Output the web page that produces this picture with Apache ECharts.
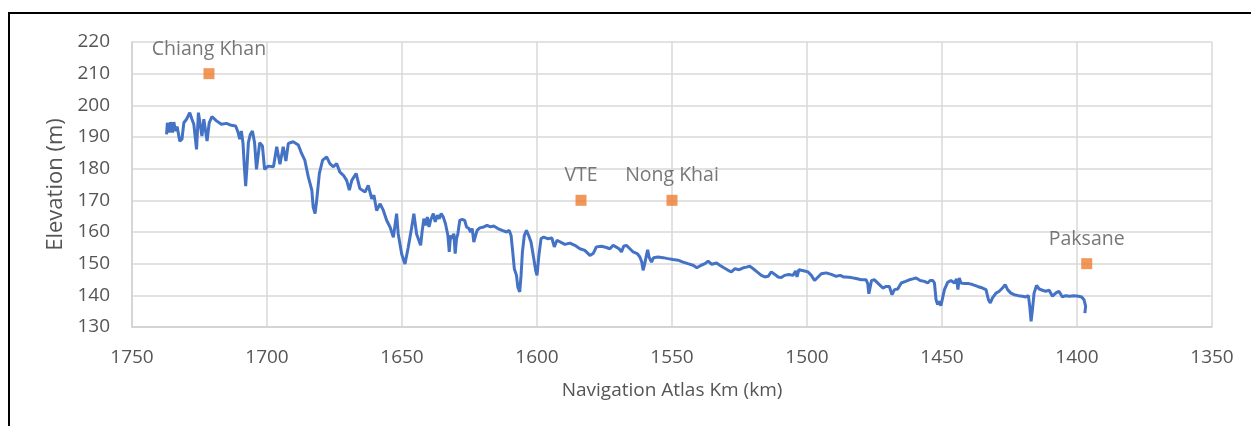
<!DOCTYPE html>
<html>
<head>
<meta charset="utf-8">
<script src="https://cdn.jsdelivr.net/npm/echarts@6/dist/echarts.min.js"></script>
<style>html,body{margin:0;padding:0;background:#fff;}#c{width:1251px;height:426px;}</style>
</head>
<body>
<div id="c"></div>
<script>
// Elevation profile: [Navigation Atlas Km, Elevation m]
const profileKm = [1737.2,1736.9,1736.2,1735.7,1735.0,1734.5,1733.9,1733.3,1732.3,1731.5,1730.8,1729.8,1728.6,1727.8,1727.1,1726.1,1725.4,1724.9,1724.1,1723.4,1722.2,1721.4,1720.4,1718.7,1716.9,1715.0,1713.2,1711.6,1710.7,1710.1,1709.5,1708.9,1708.4,1707.9,1707.4,1706.9,1706.2,1705.4,1704.6,1703.9,1703.3,1702.7,1701.7,1700.9,1699.6,
1697.6,1696.4,1695.2,1694.0,1693.0,1692.1,1690.3,1688.4,1687.2,1686.0,1684.7,1683.4,1682.9,1682.2,1681.6,1680.6,1679.4,1677.9,1676.7,1675.4,1674.2,1673.0,1671.7,1670.5,1669.5,1668.6,1667.0,1665.6,1663.7,1662.5,1661.2,1660.4,1659.4,1658.1,1656.9,1655.7,1654.4,1653.2,1652.0,1651.4,1650.1,1648.9,1647.7,1646.4,1645.6,1644.6,
1643.1,1642.5,1641.9,1641.3,1640.6,1640.0,1639.4,1638.4,1637.7,1636.9,1636.2,1635.5,1634.7,1633.9,1633.0,1632.5,1632.0,1631.3,1630.8,1630.3,1629.8,1629.3,1628.6,1627.7,1626.8,1626.1,1625.2,1624.6,1624.0,1623.4,1622.8,1622.2,1621.2,1619.7,1618.5,1617.2,1616.0,1614.5,1612.9,1611.3,1610.3,1609.6,1609.1,1608.4,1607.6,1607.1,1606.4,1605.9,1605.4,1604.7,1603.9,1603.1,1602.2,1601.2,1600.5,1600.0,1599.3,1598.5,1597.5,1596.1,1594.5,1593.6,1592.6,
1589.7,1587.8,1586.0,1584.1,1582.3,1580.4,1579.2,1578.0,1576.1,1574.3,1573.0,1571.8,1570.8,1570.3,1569.6,1568.7,1567.9,1566.9,1565.6,1564.4,1562.9,1561.9,1561.2,1560.7,1560.1,1559.5,1559.0,1558.5,1557.6,1556.8,1555.2,1553.3,1551.5,1549.6,1547.8,1545.9,1544.1,1542.2,1540.8,1539.2,
1537.8,1536.6,1535.3,1533.5,1532.3,1530.8,1529.2,1528.0,1526.7,1525.1,1523.6,1522.4,1521.2,1519.9,1518.5,1516.9,1515.6,1514.4,1513.2,1511.9,1510.7,1509.5,1508.3,1506.7,1505.2,1504.2,1503.7,1503.0,1502.1,1500.9,1499.6,1498.4,1497.2,1495.9,1494.7,1492.9,1491.0,1489.2,1487.7,1487.0,1486.5,1485.5,1483.6,1481.8,1479.9,1478.1,1477.5,1477.1,1476.6,1476.1,1475.0,
1473.2,1471.9,1470.7,1469.5,1468.5,1467.6,1466.4,1465.1,1463.5,1462.1,1460.8,1459.6,1458.1,1456.5,1455.3,1454.4,1453.4,1452.8,1452.2,1451.6,1451.0,1450.4,1449.8,1449.1,1447.9,1446.7,1445.4,1444.6,1444.1,1443.6,1443.0,1441.7,1440.1,1438.7,1436.8,1435.0,1433.7,1432.8,1432.1,1431.3,1430.0,1428.8,1427.6,1426.6,1425.7,1424.5,1423.3,1421.7,1420.2,1419.0,1418.0,1417.5,1417.0,1416.5,1415.9,1415.0,1414.0,1412.8,1411.6,1410.3,1409.1,1407.9,1406.7,1405.4,1404.2,1402.7,1401.2,1399.4,1398.3,1397.4,1396.8,1397.1];
const profileElev = [190.8,194.5,191.4,194.7,191.4,194.7,191.9,193.3,188.7,189.3,194.5,195.6,197.7,195.6,194.0,186.1,197.7,197.9,190.3,195.6,188.7,194.5,196.4,195.1,194.0,194.3,193.7,193.5,191.4,189.3,191.9,188.2,180.8,174.5,180.8,188.2,190.8,191.9,188.2,179.8,184.0,188.2,187.2,179.8,180.8,
180.6,186.9,181.4,186.9,182.4,188.0,188.5,187.5,184.8,182.7,177.4,173.2,167.9,165.8,170.0,178.5,182.7,183.7,181.6,180.6,181.6,178.9,177.9,176.3,173.2,176.3,178.5,173.7,172.6,174.7,170.5,171.6,166.8,168.9,166.8,163.7,161.5,158.3,165.8,159.4,153.0,149.9,155.1,161.5,165.8,159.4,
155.8,160.5,164.2,162.1,164.7,161.6,163.7,165.8,163.2,165.3,164.2,165.8,164.7,162.6,158.9,153.7,158.9,157.9,159.5,153.2,157.9,159.5,163.7,164.0,163.7,161.6,161.1,160.0,161.1,156.8,156.3,160.5,161.3,161.6,162.1,161.6,161.9,161.1,160.5,160.0,160.5,158.9,154.7,148.4,146.3,142.6,141.1,146.3,153.7,158.9,160.5,158.9,156.8,151.6,147.9,146.3,152.6,157.9,158.4,157.9,158.1,155.3,157.4,
156.1,156.5,155.8,154.7,154.2,152.6,153.2,155.3,155.5,155.1,154.7,155.8,155.3,155.8,154.7,153.7,155.5,155.8,154.7,153.7,153.2,152.1,150.5,147.9,150.0,152.6,154.4,152.1,150.5,151.9,152.1,151.9,151.6,151.3,151.1,150.5,150.0,149.5,148.7,149.5,
150.0,150.8,149.8,150.2,149.5,148.7,147.9,147.4,148.4,148.1,148.7,148.9,149.2,148.4,147.4,146.3,145.8,146.0,147.4,146.6,145.8,145.6,146.3,146.6,146.3,147.7,145.8,148.1,147.9,147.7,147.4,146.3,144.7,145.8,146.8,147.1,146.6,146.0,146.3,146.6,145.8,145.8,145.6,145.3,144.9,144.9,143.7,140.5,142.6,144.7,144.9,
143.4,142.3,142.8,142.8,140.2,141.8,142.0,143.9,144.4,144.9,145.2,145.5,144.7,144.4,143.9,144.7,144.7,143.9,138.6,137.1,138.1,136.7,137.1,141.8,144.1,144.7,143.9,145.2,141.8,145.5,143.9,143.7,143.7,143.4,142.8,142.3,141.8,138.6,137.6,139.2,140.7,141.3,142.3,143.4,141.8,140.7,140.2,139.9,139.7,139.5,139.9,136.5,131.8,135.5,140.7,143.1,142.0,141.6,141.3,141.6,139.7,140.7,141.3,139.5,139.9,139.7,139.9,139.7,139.5,138.6,136.5,134.4];

const placeNames = ['Chiang Khan', 'VTE', 'Nong Khai', 'Paksane'];
const placeKm = [1721.5, 1583.7, 1550.0, 1396.4];
const placeElev = [210, 170, 170, 150];

const xMin = 1350, xMax = 1750, xStep = 50;
const yMin = 130, yMax = 220, yStep = 10;

const profileData = profileKm.map((k, i) => [k, profileElev[i]]);
const placeData = placeKm.map((k, i) => ({ value: [k, placeElev[i]], name: placeNames[i] }));

const chart = echarts.init(document.getElementById('c'), null, { renderer: 'canvas' });
const txt = '#555555';
const font = '"Open Sans", sans-serif';
chart.setOption({
  animation: false,
  backgroundColor: '#fff',
  textStyle: { fontFamily: font },
  grid: { left: 132, right: 39, top: 42, bottom: 99 },
  xAxis: {
    type: 'value', inverse: true, min: xMin, max: xMax, interval: xStep,
    name: 'Navigation Atlas Km (km)', nameLocation: 'middle', nameGap: 54,
    nameTextStyle: { color: txt, fontSize: 19, fontFamily: font },
    axisLine: { show: true, lineStyle: { color: '#d0d0d0', width: 1.5 } },
    axisTick: { show: false },
    axisLabel: { color: txt, fontSize: 19, margin: 21, fontFamily: font, formatter: v => String(v) },
    splitLine: { show: true, lineStyle: { color: '#d9d9d9', width: 1.5 } }
  },
  yAxis: {
    type: 'value', min: yMin, max: yMax, interval: yStep,
    name: 'Elevation (m)', nameLocation: 'middle', nameGap: 63,
    nameTextStyle: { color: txt, fontSize: 22, fontFamily: font },
    axisLine: { show: true, lineStyle: { color: '#d0d0d0', width: 1.5 } },
    axisTick: { show: false },
    axisLabel: { color: txt, fontSize: 19, margin: 22, fontFamily: font },
    splitLine: { show: true, lineStyle: { color: '#d9d9d9', width: 1.5 } }
  },
  series: [
    {
      type: 'line', data: profileData, showSymbol: false, symbol: 'none',
      lineStyle: { color: '#4472C4', width: 3 }, z: 3
    },
    {
      type: 'scatter', data: placeData, symbol: 'rect', symbolSize: 11,
      itemStyle: { color: '#ED7D31' }, z: 4,
      label: { show: true, position: 'top', distance: 9, formatter: '{b}', color: txt, fontSize: 19.5, fontFamily: font }
    }
  ],
  graphic: [
    { type: 'line', shape: { x1: 8, y1: 13, x2: 1251, y2: 13 }, style: { stroke: '#000', lineWidth: 2 } },
    { type: 'line', shape: { x1: 9, y1: 13, x2: 9, y2: 426 }, style: { stroke: '#000', lineWidth: 2 } }
  ]
});
</script>
</body>
</html>
